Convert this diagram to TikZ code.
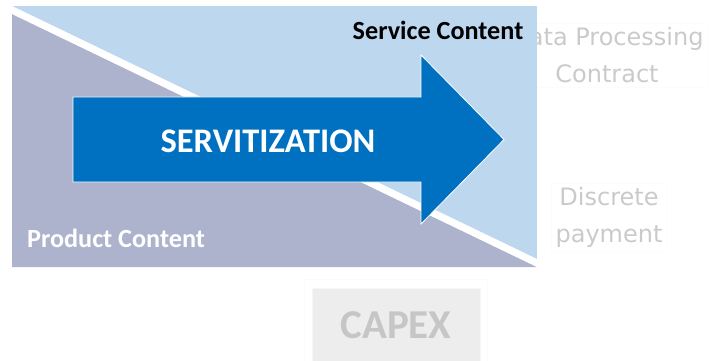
\documentclass[tikz,border=0pt]{standalone}
\usepackage{fontspec}
\setmainfont{Carlito}
\newfontfamily\fadefont{DejaVu Sans}
\definecolor{lightblue}{HTML}{BDD7EE}
\definecolor{greyblue}{HTML}{ADB3CC}
\definecolor{arrowblue}{HTML}{0070C0}
\definecolor{fadetext}{HTML}{CACACA}
\definecolor{capexfill}{HTML}{EDEDED}
\definecolor{capextext}{HTML}{C6C6C6}
\tikzset{
  px/.style={x=1pt,y=-1pt},
  fadelabel/.style={text=fadetext, font=\fadefont\fontsize{24}{37}\selectfont, align=center, inner sep=4pt, draw=gray!2},
  bigbold/.style={font=\bfseries\fontsize{26.2}{30}\selectfont, inner sep=0pt},
}
\begin{document}
\begin{tikzpicture}[px]
\useasboundingbox (0,0) rectangle (710,361);
% faded labels (behind the panel)
\node[fadelabel] (dpc) at (607,55) {Data Processing\\Contract};
\node[fadelabel] (dp) at (609,217) {Discrete\\payment};
% CAPEX box
\draw[gray!3] (304,279) rectangle (487,365);
\node[fill=capexfill, draw=gray!6, minimum width=168pt, minimum height=80pt, inner sep=0pt, anchor=north west] (capex) at (312,288) {};
\node[text=capextext, font=\bfseries\fontsize{41}{44}\selectfont, inner sep=0pt] (capext) at (396,325) {CAPEX};
% panel
\fill[lightblue] (12,6) rectangle (537,267);
\fill[greyblue] (12,14) -- (537,267) -- (12,267) -- cycle;
\fill[white] (12,6) -- (537,259) -- (537,267) -- (12,14) -- cycle;
% arrow
\draw[fill=arrowblue, draw=white, line width=0.8pt]
  (73,97) -- (421,97) -- (421,55) -- (504,139.5) -- (421,224) -- (421,182) -- (73,182) -- cycle;
\node[text=white, font=\bfseries\fontsize{34.5}{38}\selectfont, inner sep=0pt] (serv) at (268,141) {SERVITIZATION};
\node[bigbold, text=black] (sc) at (438,30) {Service Content};
\node[bigbold, text=white] (pc) at (116,238) {Product Content};
\end{tikzpicture}
\end{document}
